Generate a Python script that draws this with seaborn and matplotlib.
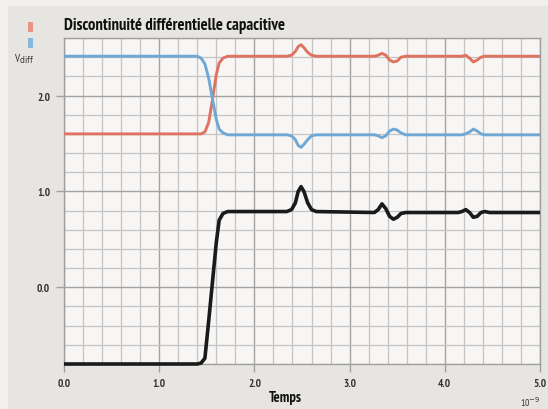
import matplotlib
matplotlib.use("Agg")
import matplotlib.pyplot as plt
from matplotlib.ticker import MultipleLocator, FixedLocator
from matplotlib.patches import Rectangle
import seaborn as sns
import pandas as pd

# ---- data ----
temps = [0.00, 1.40, 1.44, 1.48, 1.52, 1.56, 1.60, 1.63, 1.67, 1.72,
         2.34, 2.39, 2.43, 2.46, 2.49, 2.52, 2.56, 2.60, 2.65,
         3.26, 3.30, 3.34, 3.38, 3.42, 3.46, 3.50, 3.54, 3.59,
         4.14, 4.18, 4.22, 4.26, 4.30, 4.34, 4.38, 4.42, 4.47,
         5.00]
v_rouge = [1.60, 1.60, 1.60, 1.62, 1.72, 1.96, 2.22, 2.34, 2.39, 2.41,
           2.41, 2.42, 2.46, 2.51, 2.53, 2.50, 2.45, 2.42, 2.41,
           2.41, 2.42, 2.44, 2.42, 2.37, 2.35, 2.36, 2.40, 2.41,
           2.41, 2.41, 2.42, 2.39, 2.35, 2.37, 2.40, 2.41, 2.41,
           2.41]
v_bleu = [2.41, 2.41, 2.39, 2.33, 2.18, 1.96, 1.75, 1.65, 1.61, 1.59,
          1.59, 1.58, 1.54, 1.48, 1.46, 1.49, 1.54, 1.58, 1.59,
          1.59, 1.58, 1.56, 1.58, 1.63, 1.65, 1.64, 1.61, 1.59,
          1.59, 1.59, 1.60, 1.62, 1.65, 1.63, 1.60, 1.59, 1.59,
          1.59]
v_diff = [-0.80, -0.80, -0.79, -0.74, -0.35, 0.06, 0.47, 0.70, 0.77, 0.79,
          0.79, 0.81, 0.88, 1.00, 1.05, 1.00, 0.88, 0.81, 0.79,
          0.78, 0.81, 0.87, 0.82, 0.74, 0.71, 0.73, 0.77, 0.78,
          0.78, 0.79, 0.81, 0.78, 0.73, 0.74, 0.78, 0.79, 0.78,
          0.78]
x_ticks = [0.0, 1.0, 2.0, 3.0, 4.0, 5.0]
x_labels = ["0.0", "1.0", "2.0", "3.0", "4.0", "5.0"]
y_ticks = [0.0, 1.0, 2.0]
y_labels = ["0.0", "1.0", "2.0"]

titre = "Discontinuité différentielle capacitive"

df = pd.DataFrame({"t": temps, "rouge": v_rouge, "bleu": v_bleu, "diff": v_diff})

sns.set_theme(style="white")
FAM = ["PT Sans Narrow", "DejaVu Sans"]
plt.rcParams["font.family"] = FAM

fig = plt.figure(figsize=(5.48, 4.10), dpi=100)
fig.patch.set_facecolor("#f1f0ee")
bg = Rectangle((8 / 548, 0), 1, (410 - 7) / 410, transform=fig.transFigure,
               facecolor="#e7e5e2", edgecolor="none", zorder=-10)
fig.patches.append(bg)

ax = fig.add_axes([64 / 548, (410 - 365) / 410, (540 - 64) / 548, (365 - 39) / 410])
ax.set_zorder(1)
ax.set_facecolor("#f7f6f5")

red_c = "#df7362"
blue_c = "#70a8d5"
blk_c = "#1a1a1a"

sns.lineplot(data=df, x="t", y="rouge", ax=ax, color=red_c, linewidth=2.1,
             sort=False, estimator=None, clip_on=False, zorder=4)
sns.lineplot(data=df, x="t", y="bleu", ax=ax, color=blue_c, linewidth=2.1,
             sort=False, estimator=None, clip_on=False, zorder=4)
sns.lineplot(data=df, x="t", y="diff", ax=ax, color=blk_c, linewidth=2.6,
             sort=False, estimator=None, clip_on=False, zorder=5)
for ln in ax.lines:
    ln.set_solid_joinstyle("round")
    ln.set_solid_capstyle("butt")

ax.set_xlim(0, 5)
ax.set_ylim(-0.8, 2.6)
ax.xaxis.set_major_locator(FixedLocator(x_ticks))
ax.yaxis.set_major_locator(FixedLocator(y_ticks))
ax.xaxis.set_minor_locator(MultipleLocator(0.2))
ax.yaxis.set_minor_locator(MultipleLocator(0.2))
ax.set_xticklabels(x_labels)
ax.set_yticklabels(y_labels)

ax.grid(which="minor", color="#c4c4c4", linewidth=0.9)
ax.grid(which="major", color="#a3a3a3", linewidth=1.0)
ax.set_axisbelow(True)

for s in ax.spines.values():
    s.set_visible(True)
    s.set_color("#a0a0a0")
    s.set_linewidth(1.0)

ax.tick_params(which="major", direction="out", length=6, width=1, color="#a0a0a0",
               labelsize=8, labelcolor="#333333", pad=4, bottom=True, left=True)
ax.tick_params(which="minor", length=0)
for lab in ax.get_xticklabels() + ax.get_yticklabels():
    lab.set_fontweight("bold")

ax.set_xlabel("")
ax.set_ylabel("")

fig.text(64 / 548, 1 - 26 / 410, titre, fontsize=12, fontweight="bold", color="#111111",
         ha="left", va="center", family=FAM)
fig.text(285 / 548, 1 - 398 / 410, "Temps", fontsize=10.5, fontweight="bold", color="#111111",
         ha="center", va="center", family=FAM)
fig.text(530 / 548, 1 - 402 / 410, "10$^{-9}$", fontsize=7, color="#333333",
         ha="center", va="center", family=FAM)
fig.text(24 / 548, 1 - 59 / 410, "V$_{\\mathrm{diff}}$", fontsize=8, color="#333333",
         ha="center", va="center", family=FAM)

fig.patches.append(Rectangle((28 / 548, 1 - 33 / 410), 5 / 548, 10 / 410, transform=fig.transFigure,
                             facecolor="#e89585", edgecolor="none", zorder=3))
fig.patches.append(Rectangle((28 / 548, 1 - 49 / 410), 5 / 548, 10 / 410, transform=fig.transFigure,
                             facecolor="#86b8de", edgecolor="none", zorder=3))

fig.savefig("out.png", dpi=100, facecolor=fig.get_facecolor())
